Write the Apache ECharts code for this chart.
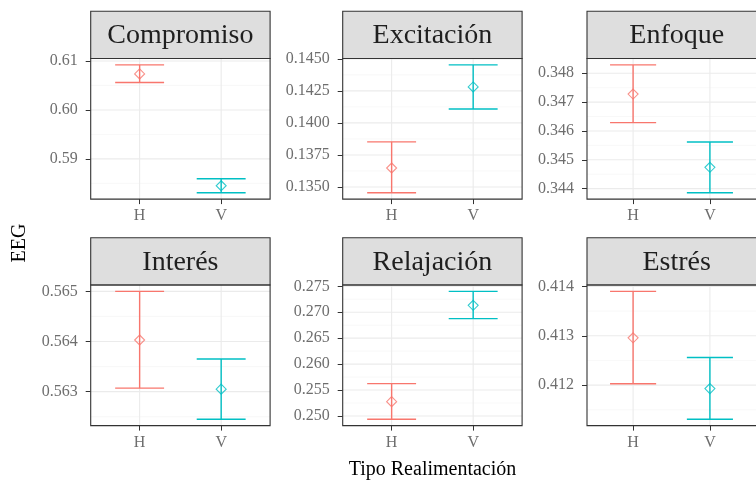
<!DOCTYPE html>
<html><head><meta charset="utf-8">
<script src="https://cdn.jsdelivr.net/npm/echarts@6/dist/echarts.min.js"></script>
<style>html,body{margin:0;padding:0;background:#fff}#c{width:756px;height:481px}</style>
</head><body><div id="c"></div>
<script>
// ---------- data ----------
const facets = ['Compromiso', 'Excitación', 'Enfoque', 'Interés', 'Relajación', 'Estrés'];
const categories = ['H', 'V'];
const meanH = [0.60736, 0.13648, 0.34728, 0.56403, 0.25276, 0.41296];
const lowH  = [0.60560, 0.13455, 0.34629, 0.56307, 0.24937, 0.41203];
const upH   = [0.60920, 0.13852, 0.34829, 0.56500, 0.25623, 0.41390];
const meanV = [0.58452, 0.14281, 0.34474, 0.56305, 0.27134, 0.41193];
const lowV  = [0.58310, 0.14109, 0.34386, 0.56245, 0.26877, 0.41131];
const upV   = [0.58594, 0.14453, 0.34562, 0.56365, 0.27402, 0.41256];
const yTicks = [
  [0.59, 0.60, 0.61],
  [0.1350, 0.1375, 0.1400, 0.1425, 0.1450],
  [0.344, 0.345, 0.346, 0.347, 0.348],
  [0.563, 0.564, 0.565],
  [0.250, 0.255, 0.260, 0.265, 0.270, 0.275],
  [0.412, 0.413, 0.414]
];
const tickDecimals = [2, 4, 3, 3, 3, 3];
const xTitle = 'Tipo Realimentación';
const yTitle = 'EEG';

// ---------- layout / style ----------
const FONT = '"Liberation Serif","Times New Roman",Times,serif';
const colors = ['#F8766D', '#00BFC4'];
const colLeft = [90.7, 342.7, 587];
const rowTop = [58.5, 285];
const panelW = 179.4, panelH = 140.6, stripH = 47.3;
const X_MIN = 0.4, X_MAX = 2.6;
const labelColor = '#6e6e6e';

const grids = [], xAxes = [], yAxes = [], series = [], graphics = [];

facets.forEach((name, i) => {
  const col = i % 3, row = Math.floor(i / 3);
  const left = colLeft[col], top = rowTop[row];
  grids.push({ left: left, top: top, width: panelW, height: panelH, show: true,
    backgroundColor: '#fff', borderWidth: 0, containLabel: false });

  const lo = Math.min(lowH[i], lowV[i]), hi = Math.max(upH[i], upV[i]);
  const pad = (hi - lo) * 0.05;
  const yMin = lo - pad, yMax = hi + pad;
  const ticks = yTicks[i];
  const step = ticks[1] - ticks[0];
  const minors = [];
  for (let k = -1; k < ticks.length; k++) {
    const m = ticks[0] + (k + 0.5) * step;
    if (m >= yMin && m <= yMax) minors.push(m);
  }

  xAxes.push({ type: 'value', gridIndex: i, min: X_MIN, max: X_MAX,
    axisLine: { show: false }, splitLine: { show: false },
    axisTick: { show: true, customValues: [1, 2], length: 5, lineStyle: { color: '#333', width: 1 } },
    axisLabel: { show: true, customValues: [1, 2], formatter: v => categories[Math.round(v) - 1],
      color: labelColor, fontFamily: FONT, fontSize: 16, margin: 9 } });
  const dec = tickDecimals[i];
  yAxes.push({ type: 'value', gridIndex: i, min: yMin, max: yMax, scale: true,
    axisLine: { show: false }, splitLine: { show: false },
    axisTick: { show: true, customValues: ticks, length: 5, lineStyle: { color: '#333', width: 1 } },
    axisLabel: { show: true, customValues: ticks, formatter: v => v.toFixed(dec),
      color: labelColor, fontFamily: FONT, fontSize: 16, margin: 13 } });

  // gridlines (horizontal)
  const hData = ticks.map(v => [v, 1]).concat(minors.map(v => [v, 0]));
  series.push({ type: 'custom', xAxisIndex: i, yAxisIndex: i, z: 1, silent: true,
    data: hData, encode: { y: 0 },
    renderItem: (p, api) => {
      const v = api.value(0), major = api.value(1) === 1;
      const a = api.coord([X_MIN, v]), b = api.coord([X_MAX, v]);
      return { type: 'line', shape: { x1: a[0], y1: a[1], x2: b[0], y2: b[1] },
        style: { stroke: major ? '#EBEBEB' : '#F3F3F3', lineWidth: major ? 1.1 : 0.6 } };
    } });
  // gridlines (vertical, at categories)
  series.push({ type: 'custom', xAxisIndex: i, yAxisIndex: i, z: 1, silent: true,
    data: categories.map((c, k) => [k + 1]), encode: { x: 0 },
    renderItem: (p, api) => {
      const x = api.value(0);
      const a = api.coord([x, yMin]), b = api.coord([x, yMax]);
      return { type: 'line', shape: { x1: a[0], y1: a[1], x2: b[0], y2: b[1] },
        style: { stroke: '#EBEBEB', lineWidth: 1.1 } };
    } });
  // error bars
  series.push({ type: 'custom', xAxisIndex: i, yAxisIndex: i, z: 3, silent: true,
    data: [[1, lowH[i], upH[i]], [2, lowV[i], upV[i]]], encode: { x: 0, y: [1, 2] },
    renderItem: (p, api) => {
      const x = api.value(0), l = api.value(1), h = api.value(2);
      const pl = api.coord([x, l]), ph = api.coord([x, h]);
      const half = api.coord([x + 0.3, l])[0] - pl[0];
      const style = { stroke: colors[Math.round(x) - 1], lineWidth: 1.4 };
      return { type: 'group', children: [
        { type: 'line', shape: { x1: pl[0], y1: pl[1], x2: ph[0], y2: ph[1] }, style: style },
        { type: 'line', shape: { x1: pl[0] - half, y1: pl[1], x2: pl[0] + half, y2: pl[1] }, style: style },
        { type: 'line', shape: { x1: ph[0] - half, y1: ph[1], x2: ph[0] + half, y2: ph[1] }, style: style }
      ] };
    } });
  // means
  series.push({ type: 'scatter', xAxisIndex: i, yAxisIndex: i, z: 4, silent: true,
    symbol: 'diamond', symbolSize: [10, 10],
    data: [
      { value: [1, meanH[i]], itemStyle: { color: 'rgba(0,0,0,0)', borderColor: colors[0], borderWidth: 1.1 } },
      { value: [2, meanV[i]], itemStyle: { color: 'rgba(0,0,0,0)', borderColor: colors[1], borderWidth: 1.1 } }
    ] });

  // strip and panel border
  graphics.push({ type: 'rect', z: 50,
    shape: { x: left, y: top - stripH, width: panelW, height: stripH },
    style: { fill: '#DEDEDE', stroke: '#333', lineWidth: 1.1 } });
  graphics.push({ type: 'text', z: 51, x: left + panelW / 2, y: top - stripH / 2 + 1,
    style: { text: name, fill: '#1f1f1f', font: '28px ' + FONT, textAlign: 'center', textVerticalAlign: 'middle' } });
  graphics.push({ type: 'rect', z: 52,
    shape: { x: left, y: top, width: panelW, height: panelH },
    style: { fill: 'none', stroke: '#333', lineWidth: 1.1 } });
});

graphics.push({ type: 'text', z: 60, x: 432.5, y: 469.5,
  style: { text: xTitle, fill: '#000', font: '20px ' + FONT, textAlign: 'center', textVerticalAlign: 'middle' } });
graphics.push({ type: 'text', z: 60, x: 19.5, y: 243, rotation: Math.PI / 2,
  style: { text: yTitle, fill: '#000', font: '20px ' + FONT, textAlign: 'center', textVerticalAlign: 'middle' } });

const chart = echarts.init(document.getElementById('c'), null, { renderer: 'canvas' });
chart.setOption({
  animation: false,
  backgroundColor: '#fff',
  grid: grids, xAxis: xAxes, yAxis: yAxes, series: series,
  graphic: { elements: graphics }
});
</script></body></html>
